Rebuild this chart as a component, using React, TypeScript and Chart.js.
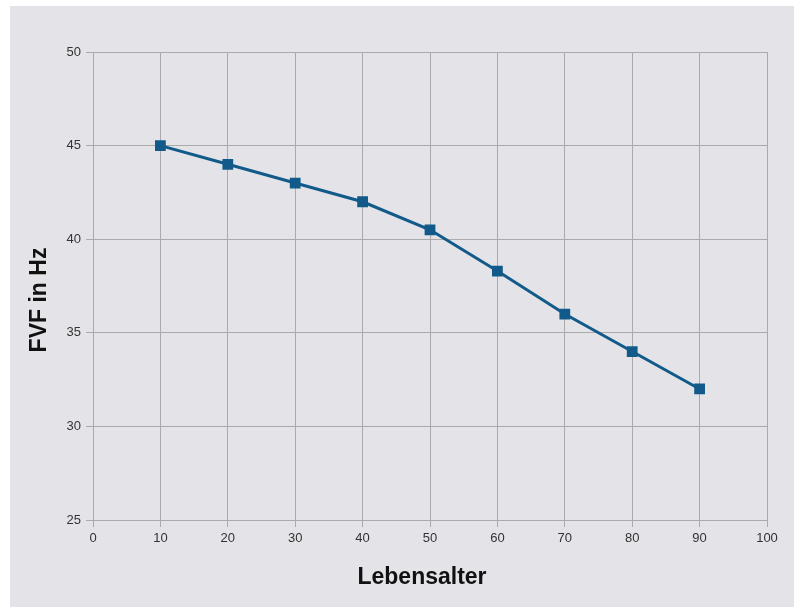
import React, { useEffect, useRef } from "react";
import { Chart, registerables } from "chart.js";

Chart.register(...registerables);

const ages = [10, 20, 30, 40, 50, 60, 70, 80, 90];
const fvf = [45, 44, 43, 42, 40.5, 38.3, 36, 34, 32];
const xTitle = "Lebensalter";
const yTitle = "FVF in Hz";

const panelPlugin = {
  id: "panel",
  beforeDraw(chart: any) {
    const { ctx } = chart;
    ctx.save();
    ctx.fillStyle = "#ffffff";
    ctx.fillRect(0, 0, chart.width, chart.height);
    ctx.fillStyle = "#e4e4e8";
    ctx.fillRect(10, 6, 784, chart.height - 6);
    ctx.restore();
  },
  afterDraw(chart: any) {
    const { ctx } = chart;
    ctx.save();
    ctx.fillStyle = "#111111";
    ctx.font = "bold 23px 'Liberation Sans'";
    ctx.textAlign = "center";
    ctx.textBaseline = "middle";
    ctx.fillText(xTitle, 422, 578);
    ctx.translate(40, 300);
    ctx.rotate(-Math.PI / 2);
    ctx.fillText(yTitle, 0, 0);
    ctx.restore();
  },
};

export default function App() {
  const ref = useRef<HTMLCanvasElement>(null);
  useEffect(() => {
    const chart = new Chart(ref.current!, {
      type: "line",
      data: {
        datasets: [
          {
            data: ages.map((a, i) => ({ x: a, y: fvf[i] })),
            borderColor: "#115a8a",
            backgroundColor: "#115a8a",
            borderWidth: 3,
            pointStyle: "rect",
            pointRadius: 5.5,
            pointHoverRadius: 5.5,
            tension: 0,
          },
        ],
      },
      options: {
        animation: false,
        responsive: false,
        events: [],
        layout: { padding: { left: 10, right: 30, top: 52, bottom: 0 } },
        plugins: { legend: { display: false }, tooltip: { enabled: false } },
        scales: {
          x: {
            type: "linear",
            min: 0,
            max: 100,
            ticks: {
              stepSize: 10,
              color: "#333333",
              padding: 4,
              font: { family: "Liberation Sans", size: 13 },
            },
            grid: { color: "#aaaaaa", tickLength: 7, lineWidth: 1 },
            border: { color: "#aaaaaa" },
            afterFit(scale: any) {
              scale.height = 87;
            },
          },
          y: {
            min: 25,
            max: 50,
            ticks: {
              stepSize: 5,
              color: "#333333",
              padding: 5,
              font: { family: "Liberation Sans", size: 13 },
            },
            grid: { color: "#aaaaaa", tickLength: 7, lineWidth: 1 },
            border: { color: "#aaaaaa" },
            afterFit(scale: any) {
              scale.width = 83;
            },
          },
        },
      },
      plugins: [panelPlugin],
    });
    return () => chart.destroy();
  }, []);
  return (
    <div style={{ position: "fixed", left: 0, top: 0, width: 797, height: 607 }}>
      <canvas ref={ref} width={797} height={607} style={{ display: "block" }} />
    </div>
  );
}
